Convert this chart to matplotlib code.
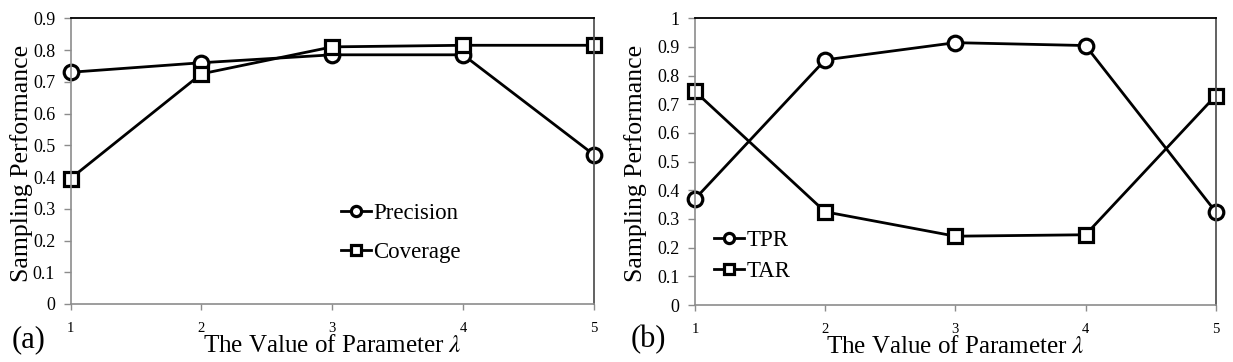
import matplotlib
matplotlib.use("Agg")
import matplotlib.pyplot as plt

plt.rcParams['font.family'] = ['Liberation Serif', 'DejaVu Serif']
plt.rcParams['mathtext.fontset'] = 'stix'

lam = [1, 2, 3, 4, 5]
precision = [0.73, 0.76, 0.785, 0.785, 0.47]
coverage = [0.395, 0.725, 0.81, 0.815, 0.815]
tpr = [0.37, 0.855, 0.915, 0.905, 0.325]
tar = [0.745, 0.325, 0.24, 0.245, 0.73]

W, H = 1233, 362
fig = plt.figure(figsize=(W / 100, H / 100), dpi=100)


def px_axes(x0, y0, x1, y1):
    return fig.add_axes([x0 / W, (H - y1) / H, (x1 - x0) / W, (y1 - y0) / H])


def style(ax, ymax, yticks):
    ax.set_xlim(1, 5)
    ax.set_ylim(0, ymax)
    ax.set_xticks(lam)
    ax.set_yticks(yticks)
    ax.set_yticklabels([('%g' % t) for t in yticks])
    for s in ('left', 'bottom'):
        ax.spines[s].set_color('#8c8c8c')
        ax.spines[s].set_linewidth(1.2)
    ax.spines['top'].set_color('black')
    ax.spines['top'].set_linewidth(1.3)
    ax.spines['right'].set_color('#555555')
    ax.spines['right'].set_linewidth(1.3)
    ax.tick_params(axis='y', direction='out', length=5, width=1, color='#8c8c8c',
                   labelsize=13, pad=6)
    ax.tick_params(axis='x', direction='out', length=4, width=1, color='#8c8c8c',
                   labelsize=10.5, pad=9)
    ax.set_xlabel('The Value of Parameter $\\lambda$', fontsize=18, labelpad=0)


mk = dict(color='black', lw=2.0, markersize=10.5, markerfacecolor='white',
          markeredgewidth=2.3, markeredgecolor='black', clip_on=False)

leg_kw = dict(bbox_transform=fig.transFigure, frameon=False, fontsize=16.5,
              handlelength=1.3, handletextpad=0.12, borderaxespad=0, borderpad=0,
              markerscale=0.7, loc='center left')

ax1 = px_axes(70.5, 18.3, 594, 304)
ax1.plot(lam, precision, marker='o', label='Precision', **mk)
ax1.plot(lam, coverage, marker='s', label='Coverage', **mk)
style(ax1, 0.9, [0, 0.1, 0.2, 0.3, 0.4, 0.5, 0.6, 0.7, 0.8, 0.9])
ax1.legend(bbox_to_anchor=(341 / W, 1 - 233 / H), labelspacing=0.75, **leg_kw)

ax2 = px_axes(695, 18.3, 1215.7, 305)
ax2.plot(lam, tpr, marker='o', label='TPR', **mk)
ax2.plot(lam, tar, marker='s', label='TAR', **mk)
style(ax2, 1.0, [0, 0.1, 0.2, 0.3, 0.4, 0.5, 0.6, 0.7, 0.8, 0.9, 1.0])
ax2.legend(bbox_to_anchor=(714 / W, 1 - 256 / H), labelspacing=0.45, **leg_kw)

fig.text(22 / W, 1 - 163 / H, 'Sampling Performance', rotation=90,
         ha='center', va='center', fontsize=18.5)
fig.text(636 / W, 1 - 163 / H, 'Sampling Performance', rotation=90,
         ha='center', va='center', fontsize=18.5)
fig.text(29 / W, 1 - 340 / H, '(a)', ha='center', va='center', fontsize=22)
fig.text(648 / W, 1 - 340 / H, '(b)', ha='center', va='center', fontsize=22)

fig.savefig('out.png', dpi=100)
